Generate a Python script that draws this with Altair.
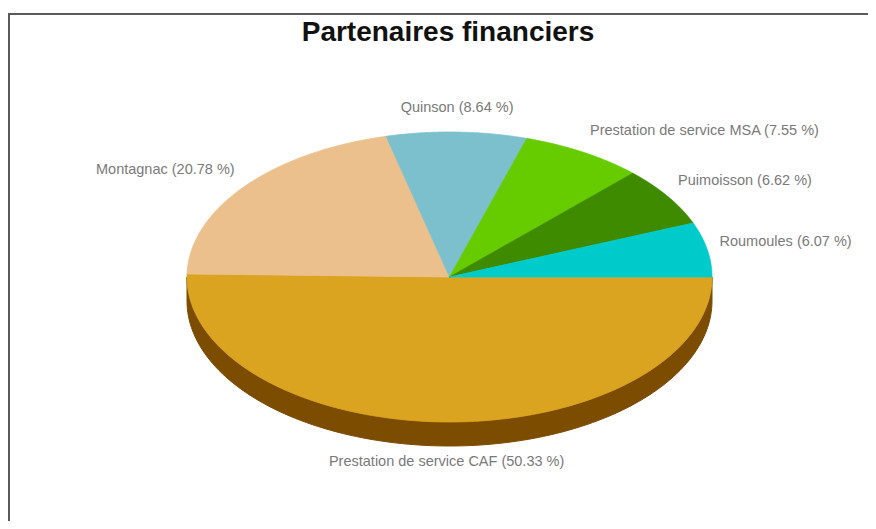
import altair as alt
import pandas as pd

# ---------------- data ----------------
chart_title = "Partenaires financiers"
names = [
    "Prestation de service CAF",
    "Montagnac",
    "Quinson",
    "Prestation de service MSA",
    "Puimoisson",
    "Roumoules",
]
shares = [50.33, 20.78, 8.64, 7.55, 6.62, 6.07]
top_colors = ["#DAA420", "#EBC08C", "#7CC0CE", "#66CC00", "#3E8B00", "#00CBCB"]
side_colors = ["#7C4C00", "#8A6A42", "#3E6E78", "#3A7A00", "#234F00", "#007575"]

df = pd.DataFrame({"name": names, "share": shares, "order": list(range(len(names)))})

# ---------------- layout constants (pixels) ----------------
W, H = 860, 463
PAD_TOP = 50
CX, CY = 441.5, 219.0      # pie centre inside the plot area
RX, RY = 262.5, 145.0      # ellipse radii
DEPTH = 24.0 / RY          # 3D thickness in data units
LX, LY = 275.0 / RX, 165.0 / RY
LOFF = 4.0 / RY
N = 120

xs = alt.Scale(domain=[-CX / RX, (W - CX) / RX], nice=False, zero=False)
ys = alt.Scale(domain=[-(H - CY) / RY, CY / RY], nice=False, zero=False)

base = (
    alt.Chart(df)
    .transform_joinaggregate(total="sum(share)")
    .transform_window(cum="sum(share)", sort=[alt.SortField("order")])
    .transform_calculate(
        a0="(datum.cum - datum.share) / datum.total * 2 * PI",
        a1="datum.cum / datum.total * 2 * PI",
    )
)

fill_scale = alt.Scale(domain=names, range=top_colors)
side_scale = alt.Scale(domain=names, range=side_colors)

# side (visible front half only)
side = (
    base.transform_calculate(s="max(datum.a0, 0)", e="min(datum.a1, PI)")
    .transform_filter("datum.e > datum.s")
    .transform_calculate(k=f"sequence(0, {2 * N + 2})")
    .transform_flatten(["k"])
    .transform_calculate(
        j=f"datum.k <= {N} ? datum.k : {2 * N + 1} - datum.k",
    )
    .transform_calculate(
        t=f"datum.s + (datum.e - datum.s) * datum.j / {N}",
    )
    .transform_calculate(
        px="cos(datum.t)",
        py=f"-sin(datum.t) - (datum.k <= {N} ? 0 : {DEPTH})",
    )
    .mark_line(interpolate="linear-closed", strokeWidth=1)
    .encode(
        x=alt.X("px:Q", scale=xs, axis=None),
        y=alt.Y("py:Q", scale=ys, axis=None),
        fill=alt.Fill("name:N", scale=side_scale, legend=None),
        stroke=alt.Stroke("name:N", scale=side_scale, legend=None),
        detail="name:N",
        order="k:Q",
    )
)

# top faces
top = (
    base.transform_calculate(k=f"sequence(0, {N + 2})")
    .transform_flatten(["k"])
    .transform_calculate(
        t=f"datum.a0 + (datum.a1 - datum.a0) * min(datum.k, {N}) / {N}",
    )
    .transform_calculate(
        px=f"datum.k <= {N} ? cos(datum.t) : 0",
        py=f"datum.k <= {N} ? -sin(datum.t) : 0",
    )
    .mark_line(interpolate="linear-closed", strokeWidth=0.8)
    .encode(
        x=alt.X("px:Q", scale=xs, axis=None),
        y=alt.Y("py:Q", scale=ys, axis=None),
        fill=alt.Fill("name:N", scale=fill_scale, legend=None),
        stroke=alt.Stroke("name:N", scale=fill_scale, legend=None),
        detail="name:N",
        order="k:Q",
    )
)

lab_base = base.transform_calculate(
    m="(datum.a0 + datum.a1) / 2",
).transform_calculate(
    lx=f"{LX} * cos(datum.m)",
    ly=f"-{LY} * sin(datum.m) + {LOFF} - (sin(datum.m) > 0 ? {DEPTH} : 0)",
    label="datum.name + ' (' + format(datum.share, '.2f') + ' %)'",
    side="cos(datum.m) > 0.2 ? 'left' : (cos(datum.m) < -0.2 ? 'right' : 'center')",
)


def labels(align):
    return (
        lab_base.transform_filter(f"datum.side == '{align}'")
        .mark_text(align=align, baseline="middle", font="Liberation Sans",
                   fontSize=14.5, color="#7a7a7a")
        .encode(
            x=alt.X("lx:Q", scale=xs, axis=None),
            y=alt.Y("ly:Q", scale=ys, axis=None),
            text="label:N",
        )
    )


# title as a text mark (page centre x ~448, baseline ~41)
title_df = pd.DataFrame({"t": [chart_title]})
title_mark = alt.Chart(title_df).mark_text(
    font="Liberation Sans", fontSize=28, fontWeight="bold", color="#111111",
    align="center", baseline="alphabetic",
).encode(text="t:N", x=alt.value(440), y=alt.value(41 - 8 - PAD_TOP))

# frame of the original picture (top and left edges)
frame_top = alt.Chart().mark_rule(color="#5a5a5a", strokeWidth=2).encode(
    x=alt.value(0), x2=alt.value(W), y=alt.value(-44)
)
frame_left = alt.Chart().mark_rule(color="#5a5a5a", strokeWidth=2).encode(
    x=alt.value(1), y=alt.value(-44), y2=alt.value(H)
)

chart = (
    alt.layer(side, top, labels("left"), labels("right"), labels("center"),
              title_mark, frame_top, frame_left)
    .resolve_scale(fill="independent", stroke="independent")
    .properties(
        width=W,
        height=H,
        padding={"left": 0, "top": PAD_TOP, "right": 0, "bottom": 0},
        autosize=alt.AutoSizeParams(type="none"),
        background="white",
    )
    .configure_view(stroke=None)
)

chart.save("out.html", embed_options={"renderer": "svg", "actions": False})
